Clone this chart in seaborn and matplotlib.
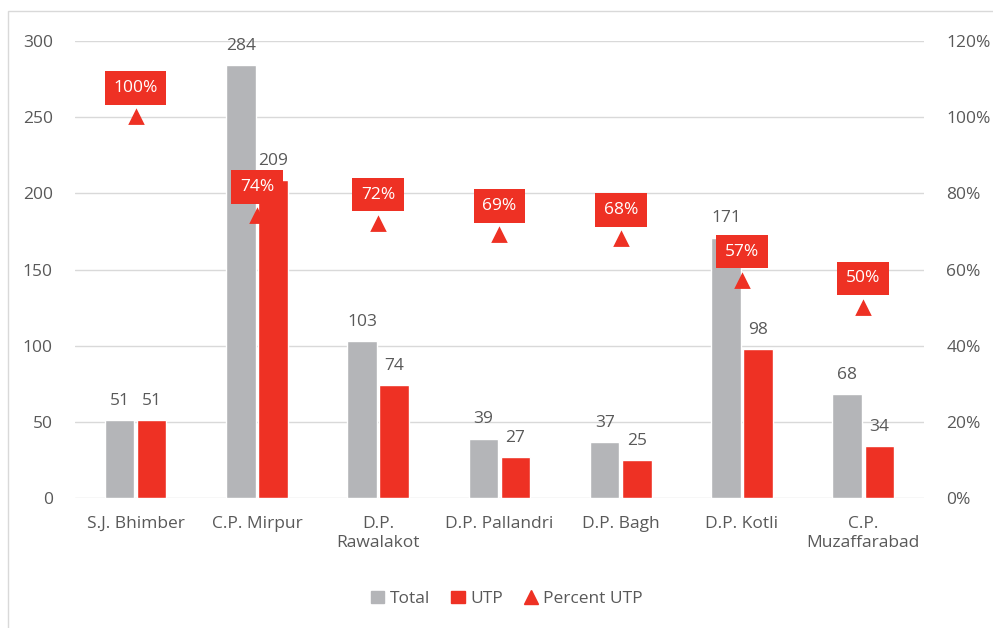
import pandas as pd
import matplotlib
matplotlib.use("Agg")
import matplotlib.pyplot as plt
import seaborn as sns
from matplotlib.lines import Line2D
from matplotlib.patches import Patch, Rectangle

prisons = ["S.J. Bhimber", "C.P. Mirpur", "D.P.\nRawalakot", "D.P. Pallandri",
           "D.P. Bagh", "D.P. Kotli", "C.P.\nMuzaffarabad"]
total = [51, 284, 103, 39, 37, 171, 68]
utp = [51, 209, 74, 27, 25, 98, 34]
pct_utp = [100, 74, 72, 69, 68, 57, 50]

grey = "#B4B5B8"
red = "#EE3124"
txt = "#595959"

sns.set_theme(style="white")
plt.rcParams["font.family"] = ["Open Sans", "DejaVu Sans"]
fs = 12.5

df = pd.DataFrame({"prison": prisons * 2,
                   "count": total + utp,
                   "series": ["Total"] * 7 + ["UTP"] * 7})

fig = plt.figure(figsize=(9.93, 6.28), dpi=100)
ax = fig.add_axes([0.0755, 0.207, 0.855, 0.7277])

sns.barplot(data=df, x="prison", y="count", hue="series", order=prisons,
            palette={"Total": grey, "UTP": red}, width=0.53, gap=0.08,
            saturation=1, ax=ax, legend=False, zorder=2)

ax.set_ylim(0, 300)
ax.set_yticks(range(0, 301, 50))
ax.yaxis.grid(True, color="#D9D9D9", lw=1)
ax.set_axisbelow(True)
for s in ax.spines.values():
    s.set_visible(False)
ax.set_xlabel("")
ax.set_ylabel("")
ax.tick_params(axis="y", length=0, pad=16, labelsize=fs, labelcolor=txt)
ax.tick_params(axis="x", length=0, pad=13, labelsize=fs, labelcolor=txt)
for lab in ax.get_xticklabels():
    lab.set_linespacing(1.25)

# value labels on bars
for cont in ax.containers:
    ax.bar_label(cont, padding=8, fontsize=fs, color=txt)

# percent series on secondary axis
ax2 = ax.twinx()
sns.pointplot(x=prisons, y=pct_utp, order=prisons, color=red, markers="^",
              linestyle="none", markersize=9, ax=ax2, zorder=5)
ax2.set_ylim(0, 120)
ax2.set_yticks(range(0, 121, 20))
ax2.set_yticklabels([f"{v}%" for v in range(0, 121, 20)])
ax2.tick_params(axis="y", length=0, pad=16, labelsize=fs, labelcolor=txt)
for s in ax2.spines.values():
    s.set_visible(False)
ax2.set_ylabel("")
ax2.set_xlim(ax.get_xlim())

for i, p in enumerate(pct_utp):
    ax2.annotate(f"{p}%", (prisons[i], p), xytext=(0, 21), textcoords="offset points",
                 ha="center", va="center", fontsize=fs, color="white", zorder=6,
                 bbox=dict(boxstyle="square,pad=0.5", fc=red, ec="none"))

handles = [Patch(color=grey, label="Total"),
           Patch(color=red, label="UTP"),
           Line2D([], [], marker="^", color=red, ls="none", markersize=10, label="Percent UTP")]
fig.legend(handles=handles, loc="center", bbox_to_anchor=(0.51, 0.046), ncol=3,
           frameon=False, fontsize=fs, labelcolor=txt, handlelength=0.8,
           handletextpad=0.3, columnspacing=1.2)

# chart border
fig.patches.append(Rectangle((8 / 993, -0.1), 1.1, 1.1 - 11 / 628, transform=fig.transFigure,
                             fill=False, ec="#D9D9D9", lw=1))

fig.savefig("out.png", dpi=100)
